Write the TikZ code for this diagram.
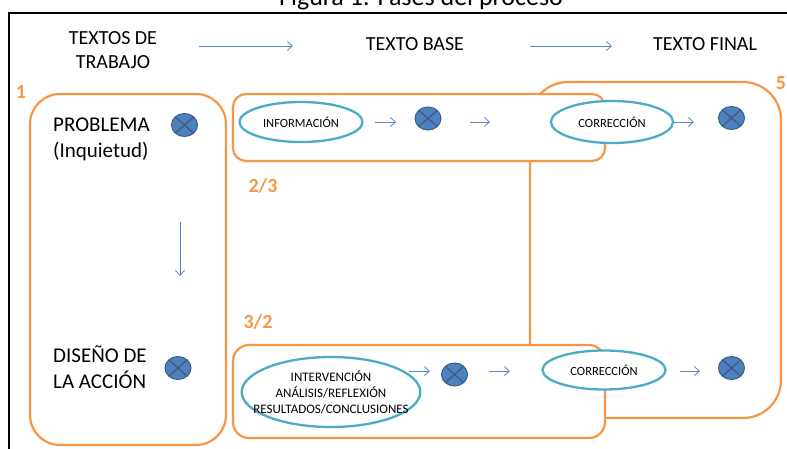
\documentclass[tikz,border=0pt]{standalone}
\usepackage{fontspec}
\setmainfont{Carlito}
\usetikzlibrary{shapes.geometric,arrows.meta}
\definecolor{borange}{HTML}{F79646}
\definecolor{ellteal}{HTML}{4BACC6}
\definecolor{xblue}{HTML}{4F81BD}
\definecolor{xdark}{HTML}{385D8A}
\definecolor{arrblue}{HTML}{5B87C5}
\tikzset{
  phasebox/.style={draw=borange, line width=2.2pt, fill=white},
  ell/.style={ellipse, draw=ellteal, line width=2.3pt, fill=white, inner sep=0pt, align=center, font=\fontsize{12.5}{15}\selectfont},
  xcirc/.style={ellipse, draw=xdark, fill=xblue, line width=1pt, minimum width=26pt, minimum height=23pt, inner sep=0pt,
    path picture={\draw[xdark, line width=1.3pt] (path picture bounding box.north west) -- (path picture bounding box.south east)
      (path picture bounding box.north east) -- (path picture bounding box.south west);}},
  arr/.style={draw=arrblue, line width=0.8pt, -{Straight Barb[length=5pt,width=9pt]}},
  head/.style={font=\fontsize{20}{24}\selectfont, align=center, inner sep=0pt},
  big/.style={font=\fontsize{21}{26}\selectfont, align=left, inner sep=0pt},
  num/.style={font=\fontsize{20}{24}\selectfont\bfseries, text=borange, inner sep=0pt},
}
\begin{document}
\begin{tikzpicture}[x=1pt,y=-1pt]
\useasboundingbox (0,0) rectangle (787,448);
\clip (0,0) rectangle (787,448);
% title (partly cut off at top, as in the reference)
\node[font=\fontsize{26}{30}\selectfont, anchor=base, inner sep=0pt] (title) at (421,5.5) {Figura 1: Fases del proceso};
% frame
\draw[line width=1.5pt] (9,470) -- (9,13) -- (810,13);
% headers
\node[head] (h1) at (113,50) {TEXTOS DE\\TRABAJO};
\node[head] (h2) at (415,44) {TEXTO BASE};
\node[head] (h3) at (705,44) {TEXTO FINAL};
\coordinate (ha1) at (199,46); \coordinate (hb1) at (293,46);
\coordinate (ha2) at (530,46); \coordinate (hb2) at (612,46);
\draw[arr] (ha1) -- (hb1);
\draw[arr] (ha2) -- (hb2);
% boxes
\draw[phasebox, rounded corners=38pt] (530,82) rectangle (781,418);
\draw[phasebox, rounded corners=13pt] (233,94) rectangle (605,161);
\draw[phasebox, rounded corners=16pt] (233,345) rectangle (605,438);
\draw[phasebox, rounded corners=30pt] (30,94) rectangle (226,445);
% labels
\node[num] (n1) at (21,92) {1};
\node[num] (n23) at (263,186) {2/3};
\node[num] (n32) at (258,322) {3/2};
\node[num] (n5) at (781,83) {5};
% column 1
\node[big, anchor=west] (prob) at (53,139) {PROBLEMA\\(Inquietud)};
\node[xcirc] (x1) at (184.5,125) {};
\node[big, anchor=west] (dis) at (53,367.5) {DISEÑO DE\\LA ACCIÓN};
\node[xcirc] (x2) at (178,368) {};
\coordinate (va) at (180,222); \coordinate (vb) at (180,276);
\draw[arr] (va) -- (vb);
% top row
\node[ell, minimum width=123pt, minimum height=40pt] (info) at (301,122) {INFORMACIÓN};
\node[xcirc] (x3) at (428,118.5) {};
\node[ell, minimum width=122pt, minimum height=42pt] (corr1) at (612,122) {CORRECCIÓN};
\node[xcirc] (x4) at (731.5,118) {};
\coordinate (t1a) at (375,122); \coordinate (t1b) at (396,122);
\coordinate (t2a) at (470,122); \coordinate (t2b) at (490,122);
\coordinate (t3a) at (674,122); \coordinate (t3b) at (694,122);
\draw[arr] (t1a) -- (t1b);
\draw[arr] (t2a) -- (t2b);
\draw[arr] (t3a) -- (t3b);
% bottom row
\node[ell, inner xsep=-14.5pt, inner ysep=0pt, minimum height=70pt, font=\fontsize{13}{16}\selectfont] (interv) at (331,392) {INTERVENCIÓN\\ANÁLISIS/REFLEXIÓN\\RESULTADOS/CONCLUSIONES};
\node[xcirc] (x5) at (454.5,374.5) {};
\node[ell, minimum width=123pt, minimum height=39pt] (corr2) at (604,370) {CORRECCIÓN};
\node[xcirc] (x6) at (731.5,368) {};
\coordinate (b1a) at (409,371); \coordinate (b1b) at (430,371);
\coordinate (b2a) at (489,371); \coordinate (b2b) at (510,371);
\coordinate (b3a) at (680,371); \coordinate (b3b) at (700,371);
\draw[arr] (b1a) -- (b1b);
\draw[arr] (b2a) -- (b2b);
\draw[arr] (b3a) -- (b3b);
\end{tikzpicture}
\end{document}
